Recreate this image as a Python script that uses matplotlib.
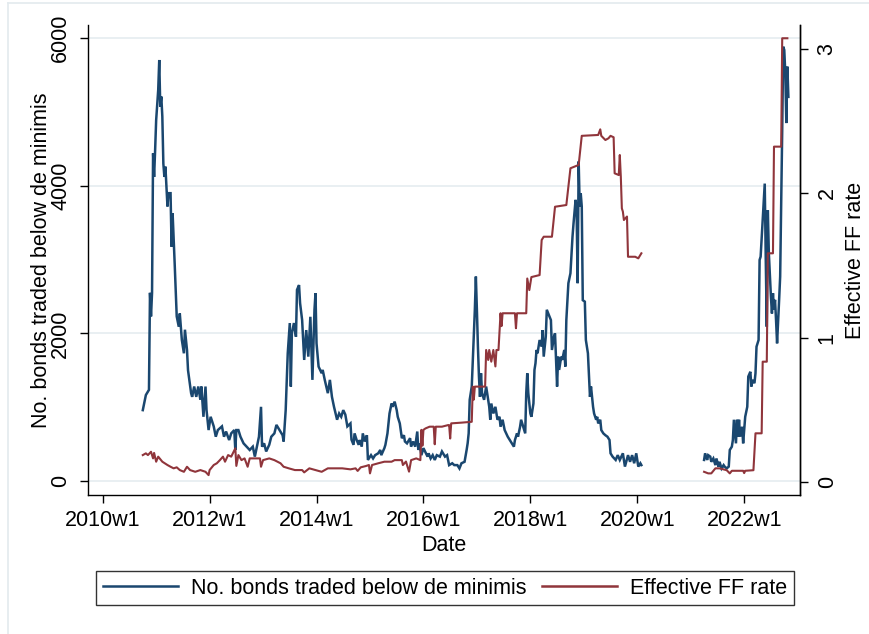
import numpy as np
import matplotlib
matplotlib.use("Agg")
import matplotlib.pyplot as plt
from matplotlib.lines import Line2D

plt.rcParams['font.family'] = ['Liberation Sans', 'DejaVu Sans']

# Stata weekly dates: (year-1960)*52 + (week-1); 2010w1 = 2600
tick_weeks = [2600, 2704, 2808, 2912, 3016, 3120, 3224]
tick_labels = ["2010w1", "2012w1", "2014w1", "2016w1", "2018w1", "2020w1", "2022w1"]

# No. bonds traded below de minimis (segment 1: 2010-2020, segment 2: 2021-2022)
bonds_w1 = [2639, 2642, 2645, 2646, 2647, 2648, 2649, 2650, 2651, 2652, 2654, 2655, 2656, 2657, 2658,
            2659, 2660, 2661, 2663, 2664, 2666, 2667, 2668, 2670, 2672, 2674, 2675, 2677, 2679, 2680,
            2682, 2683, 2686, 2687, 2689, 2691, 2693, 2695, 2696, 2698, 2700, 2701, 2703, 2705, 2708,
            2710, 2712, 2716, 2718, 2720, 2723, 2725, 2728, 2729, 2730, 2732, 2734, 2737, 2740, 2743,
            2746, 2748, 2750, 2752, 2754, 2755, 2757, 2759, 2762, 2764, 2767, 2769, 2772, 2775, 2776,
            2778, 2780, 2782, 2783, 2784, 2786, 2788, 2789, 2791, 2792, 2794, 2796, 2798, 2800, 2802,
            2804, 2806, 2807, 2808, 2810, 2813, 2814, 2816, 2819, 2821, 2823, 2825, 2828, 2830, 2832,
            2834, 2836, 2838, 2841, 2842, 2844, 2845, 2847, 2849, 2850, 2852, 2853, 2855, 2857, 2858,
            2861, 2863, 2865, 2868, 2870, 2871, 2874, 2875, 2877, 2879, 2881, 2882, 2884, 2886, 2887,
            2889, 2891, 2893, 2894, 2896, 2899, 2900, 2902, 2904, 2906, 2907, 2908, 2910, 2912, 2916,
            2917, 2919, 2921, 2923, 2925, 2928, 2930, 2933, 2935, 2937, 2940, 2942, 2945, 2947, 2949,
            2952, 2954, 2955, 2956, 2957, 2959, 2961, 2962, 2963, 2964, 2965, 2966, 2967, 2968, 2969,
            2971, 2973, 2974, 2976, 2977, 2978, 2980, 2982, 2984, 2986, 2987, 2989, 2991, 2994, 2996,
            2998, 3000, 3001, 3003, 3004, 3006, 3007, 3009, 3011, 3012, 3013, 3014, 3016, 3017, 3019,
            3020, 3021, 3022, 3023, 3025, 3027, 3028, 3029, 3031, 3032, 3034, 3036, 3037, 3039, 3040,
            3042, 3043, 3044, 3046, 3047, 3049, 3050, 3051, 3053, 3055, 3057, 3058, 3060, 3061, 3062,
            3063, 3064, 3065, 3066, 3067, 3069, 3070, 3072, 3074, 3075, 3077, 3078, 3080, 3081, 3082,
            3084, 3085, 3087, 3089, 3091, 3093, 3094, 3096, 3099, 3101, 3103, 3106, 3108, 3111, 3113,
            3115, 3117, 3119, 3121, 3123, 3124]
bonds_v1 = [960, 1165, 1235, 2550, 2230, 2550, 4440, 4120, 4485, 4890, 5300, 5705, 5070, 5210, 4940,
            4300, 4120, 4260, 3720, 3900, 3900, 3175, 3630, 2950, 2230, 2090, 2270, 1910, 1730, 2050,
            1775, 1500, 1190, 1140, 1280, 1140, 1280, 1100, 1280, 870, 1280, 960, 690, 870, 740,
            600, 690, 740, 600, 670, 555, 645, 690, 420, 690, 690, 600, 510, 465, 420,
            465, 330, 465, 600, 1005, 465, 510, 400, 490, 600, 645, 760, 690, 620, 535,
            960, 1730, 2140, 1280, 2000, 2140, 1955, 2590, 2655, 2410, 2180, 1640, 2045, 1685, 2225,
            1370, 2320, 2545, 1865, 1550, 1460, 1505, 1370, 1190, 1370, 1140, 1005, 830, 915, 870,
            960, 900, 740, 780, 560, 490, 645, 555, 490, 555, 465, 645, 535, 620, 285,
            350, 305, 350, 375, 420, 350, 445, 490, 645, 915, 1050, 1005, 1075, 960, 870,
            780, 580, 620, 535, 510, 580, 465, 535, 465, 670, 420, 510, 350, 445, 330,
            375, 305, 350, 285, 350, 330, 400, 330, 350, 215, 240, 215, 215, 170, 240,
            260, 420, 510, 645, 1100, 1280, 1955, 2320, 2770, 2320, 1820, 1415, 1140, 1460, 1190,
            1100, 1280, 1190, 1005, 830, 1050, 915, 1005, 830, 870, 735, 830, 690, 600, 555,
            510, 465, 555, 645, 600, 735, 830, 735, 645, 1190, 1460, 1190, 915, 870, 1050,
            1505, 1595, 1775, 1730, 1910, 1820, 2045, 1685, 1955, 2320, 2250, 2180, 1775, 1955, 2000,
            1280, 1685, 1505, 1685, 1640, 1775, 1550, 2180, 2680, 2815, 3310, 3490, 3810, 3670, 2680,
            4330, 3720, 3900, 3720, 2450, 2430, 1910, 1730, 1140, 1280, 1005, 915, 830, 870, 780,
            830, 690, 645, 620, 600, 555, 375, 330, 285, 350, 285, 375, 195, 350, 260,
            350, 240, 375, 195, 240, 215]
bonds_w2 = [3185, 3186, 3188, 3189, 3191, 3192, 3194, 3196, 3197, 3199, 3200, 3202, 3204, 3205, 3207,
            3209, 3210, 3212, 3213, 3214, 3216, 3217, 3218, 3219, 3220, 3222, 3223, 3225, 3227, 3228,
            3230, 3231, 3232, 3234, 3235, 3236, 3238, 3239, 3240, 3242, 3244, 3245, 3246, 3247, 3248,
            3250, 3251, 3252, 3253, 3254, 3255, 3256, 3258, 3259, 3261, 3262, 3263, 3264, 3265, 3266,
            3267]
bonds_v2 = [285, 375, 285, 350, 330, 260, 305, 215, 305, 195, 260, 170, 215, 195, 170,
            195, 420, 465, 555, 830, 510, 830, 600, 830, 600, 735, 510, 870, 1005, 1415,
            1480, 1280, 1370, 1325, 1460, 1820, 1910, 2995, 3040, 3535, 4030, 2995, 2090, 3670, 3085,
            2500, 2270, 2545, 2320, 2455, 2180, 1865, 2455, 2770, 4755, 5885, 5840, 5525, 4850, 5615,
            5205]

# Effective FF rate
ffr_w1 = [2639, 2642, 2644, 2647, 2649, 2650, 2652, 2654, 2658, 2663, 2666, 2669, 2672, 2675, 2679,
          2682, 2685, 2690, 2695, 2700, 2703, 2704, 2708, 2711, 2714, 2717, 2719, 2722, 2725, 2729,
          2730, 2732, 2735, 2738, 2741, 2743, 2747, 2753, 2754, 2756, 2762, 2767, 2773, 2776, 2781,
          2787, 2794, 2796, 2801, 2807, 2813, 2819, 2826, 2833, 2841, 2846, 2848, 2851, 2856, 2859,
          2860, 2862, 2868, 2874, 2881, 2884, 2891, 2892, 2895, 2898, 2900, 2905, 2909, 2910, 2911,
          2912, 2914, 2918, 2922, 2923, 2924, 2930, 2936, 2937, 2938, 2939, 2949, 2959, 2960, 2961,
          2962, 2972, 2973, 2975, 2976, 2978, 2980, 2982, 2983, 2985, 2987, 2988, 2989, 3001, 3002,
          3003, 3012, 3013, 3015, 3017, 3025, 3027, 3029, 3037, 3040, 3051, 3055, 3063, 3066, 3082,
          3084, 3085, 3089, 3092, 3094, 3097, 3098, 3102, 3103, 3104, 3105, 3106, 3107, 3110, 3111,
          3118, 3121, 3124]
ffr_v1 = [0.185, 0.197, 0.185, 0.208, 0.162, 0.20, 0.139, 0.174, 0.139, 0.116, 0.104, 0.093, 0.10, 0.081, 0.069,
          0.104, 0.081, 0.069, 0.081, 0.069, 0.046, 0.081, 0.116, 0.128, 0.15, 0.174, 0.139, 0.185, 0.174, 0.232,
          0.11, 0.185, 0.15, 0.162, 0.104, 0.162, 0.162, 0.162, 0.104, 0.15, 0.162, 0.15, 0.128, 0.104, 0.093,
          0.081, 0.081, 0.065, 0.093, 0.081, 0.069, 0.093, 0.093, 0.093, 0.086, 0.093, 0.075, 0.10, 0.109, 0.116,
          0.058, 0.116, 0.128, 0.139, 0.139, 0.15, 0.15, 0.116, 0.14, 0.07, 0.15, 0.162, 0.15, 0.36, 0.25,
          0.36, 0.37, 0.382, 0.382, 0.26, 0.382, 0.382, 0.393, 0.393, 0.30, 0.405, 0.41, 0.416, 0.66, 0.57,
          0.66, 0.66, 0.914, 0.845, 0.914, 0.833, 0.914, 0.80, 0.914, 0.914, 1.169, 1.08, 1.169, 1.169, 1.065,
          1.169, 1.169, 1.41, 1.33, 1.42, 1.434, 1.677, 1.70, 1.70, 1.908, 1.92, 2.175, 2.198, 2.40, 2.406,
          2.445, 2.40, 2.371, 2.383, 2.40, 2.39, 2.14, 2.128, 2.267, 2.116, 1.897, 1.874, 1.816, 1.84, 1.561,
          1.561, 1.55, 1.585]
ffr_w2 = [3185, 3189, 3192, 3196, 3200, 3207, 3210, 3212, 3223, 3224, 3225, 3233, 3235, 3241, 3242,
          3246, 3247, 3252, 3253, 3260, 3261, 3266]
ffr_v2 = [0.069, 0.058, 0.058, 0.093, 0.093, 0.08, 0.058, 0.076, 0.076, 0.06, 0.076, 0.08, 0.336, 0.336, 0.833,
          0.833, 1.585, 1.585, 2.325, 2.325, 3.077, 3.077]

BLUE = '#1a476f'
RED = '#90353b'
GRID = '#e9eff2'
FS = 15.5

fig = plt.figure(figsize=(8.7, 6.34), dpi=100)
fig.patch.set_facecolor('white')
# faint outer border of the graph region
fig.add_artist(Line2D([8/870, 8/870], [0, 1 - 3/634], transform=fig.transFigure, color='#e3eaee', lw=1.2))
fig.add_artist(Line2D([8/870, 1], [1 - 3/634, 1 - 3/634], transform=fig.transFigure, color='#e3eaee', lw=1.2))

ax = fig.add_axes([88/870, 1 - 495/634, (800 - 88)/870, (495 - 25)/634])
ax2 = ax.twinx()

ax.set_xlim(2585.7, 3278.3)
ax.set_ylim(-190, 6179)
ax2.set_ylim(-0.092, 3.169)

ax.plot(bonds_w1, bonds_v1, color=BLUE, lw=1.8, solid_joinstyle='miter')
ax.plot(bonds_w2, bonds_v2, color=BLUE, lw=1.8, solid_joinstyle='miter')
ax2.plot(ffr_w1, ffr_v1, color=RED, lw=1.5)
ax2.plot(ffr_w2, ffr_v2, color=RED, lw=1.5)

ax.set_yticks([0, 2000, 4000, 6000])
ax.set_yticklabels(['0', '2000', '4000', '6000'])
ax2.set_yticks([0, 1, 2, 3])
ax2.set_yticklabels(['0', '1', '2', '3'])
ax.set_xticks(tick_weeks)
ax.set_xticklabels(tick_labels)

ax.yaxis.grid(True, color=GRID, lw=1.4)
ax.set_axisbelow(True)

for a in (ax, ax2):
    a.spines['top'].set_visible(False)
    for s in a.spines.values():
        s.set_linewidth(1.0)
        s.set_color('black')
ax2.spines['left'].set_visible(False)
ax2.spines['bottom'].set_visible(False)

ax.tick_params(axis='x', length=6, width=1, pad=5, labelsize=FS)
ax.tick_params(axis='y', length=6, width=1, pad=6, labelsize=FS, labelrotation=90)
ax2.tick_params(axis='y', length=6, width=1, pad=6, labelsize=FS, labelrotation=90)
for lab in ax.get_yticklabels() + ax2.get_yticklabels():
    lab.set_va('center')

ax.set_xlabel('Date', fontsize=FS, labelpad=3)
ax.set_ylabel('No. bonds traded below de minimis', fontsize=FS, labelpad=-1)
ax2.set_ylabel('Effective FF rate', fontsize=FS, labelpad=5)

handles = [Line2D([], [], color=BLUE, lw=1.8), Line2D([], [], color=RED, lw=1.8)]
leg = fig.legend(handles, ['No. bonds traded below de minimis', 'Effective FF rate'],
                 loc='center', bbox_to_anchor=(445/870, 1 - 588/634), ncol=2,
                 fontsize=FS, frameon=True, fancybox=False, edgecolor='black',
                 handlelength=3.5, handletextpad=0.6, columnspacing=0.7,
                 borderpad=0.3, borderaxespad=0)
leg.get_frame().set_linewidth(1.0)

fig.savefig('out.png', dpi=100, facecolor='white')
